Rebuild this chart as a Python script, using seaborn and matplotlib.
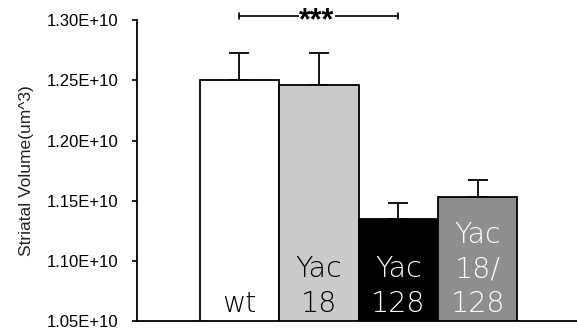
import matplotlib
matplotlib.use("Agg")
import matplotlib.pyplot as plt
import matplotlib.transforms as mtransforms
from matplotlib.ticker import FixedLocator, FuncFormatter
import seaborn as sns
import pandas as pd

# Striatal volume per genotype (um^3), mean and upper SEM
groups = ["wt", "Yac18", "Yac128", "Yac18/128"]
means = [1.2505e10, 1.2458e10, 1.1350e10, 1.1533e10]
sems = [0.0222e10, 0.0270e10, 0.0136e10, 0.0142e10]
bar_labels = ["wt", "Yac\n18", "Yac\n128", "Yac\n18/\n128"]
yticks = [1.05e10, 1.10e10, 1.15e10, 1.20e10, 1.25e10, 1.30e10]

fill_colors = ["#ffffff", "#c9c9cd", "#000000", "#8d8d91"]
text_colors = ["#000000", "#000000", "#ffffff", "#ffffff"]

sns.set_theme(style="ticks")
plt.rcParams["font.family"] = ["Liberation Sans", "DejaVu Sans"]

df = pd.DataFrame({"group": groups, "volume": means})

fig = plt.figure(figsize=(5.77, 3.29), dpi=100)
ax = fig.add_axes([0.2374, 0.0228, 0.7626, 0.9164])

sns.barplot(data=df, x="group", y="volume", hue="group", palette=fill_colors,
            order=groups, hue_order=groups, width=1.0, edgecolor="black",
            linewidth=1.3, errorbar=None, legend=False, ax=ax, zorder=2)

# upward-only error bars
ax.errorbar(range(len(groups)), means, yerr=[[0] * len(groups), sems],
            fmt="none", ecolor="black", elinewidth=1.3, capsize=7.5,
            capthick=1.3, zorder=1)

ax.set_ylim(yticks[0], yticks[-1])
ax.set_xlim(-1.29, 4.25)
ax.yaxis.set_major_locator(FixedLocator(yticks))
ax.yaxis.set_major_formatter(FuncFormatter(lambda v, p: f"{v:.2E}"))
ax.tick_params(axis="y", direction="out", length=3.5, width=1.2,
               pad=10, labelsize=12, colors="black")
ax.tick_params(axis="x", bottom=False, labelbottom=False)
ax.set_xlabel("")
ax.set_ylabel("Striatal Volume(um^3)", fontsize=12.5, labelpad=9,
              color="#222222")
for side in ("top", "right"):
    ax.spines[side].set_visible(False)
for side in ("left", "bottom"):
    ax.spines[side].set_linewidth(1.3)
    ax.spines[side].set_color("black")

# genotype names written inside the bars, one line per row
trans = mtransforms.blended_transform_factory(ax.transData, ax.transAxes)
line_step = 0.116
for i, (lab, col) in enumerate(zip(bar_labels, text_colors)):
    lines = lab.split("\n")
    for k, line in enumerate(reversed(lines)):
        ax.text(i, 0.030 + k * line_step, line, transform=trans,
                ha="center", va="baseline", fontsize=20.5, color=col,
                family="DejaVu Sans", fontweight="light", zorder=5)

# significance bracket wt vs Yac128
y_br = 1.3033e10
ax.plot([0, 2], [y_br, y_br], color="black", lw=1.2, clip_on=False, zorder=3)
for xe in (0, 2):
    ax.plot([xe, xe], [y_br - 0.0025e10, y_br + 0.0025e10], color="black",
            lw=1.2, clip_on=False, zorder=3)
ax.text(0.975, y_br - 0.0045e10, "***", ha="center", va="center",
        fontsize=22, fontweight="bold", color="black", clip_on=False,
        zorder=4, bbox=dict(facecolor="white", edgecolor="none", pad=0.2),
        transform=ax.transData)

fig.savefig("out.png", dpi=100)
